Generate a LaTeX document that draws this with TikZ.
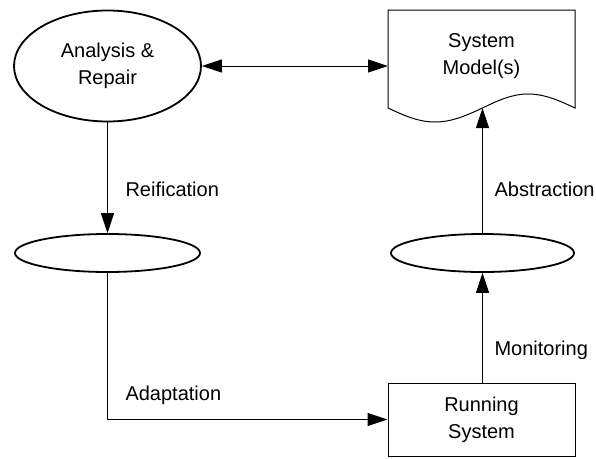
\documentclass[tikz,border=0pt]{standalone}
\usepackage{fontspec}
\setmainfont{Liberation Sans}
\usetikzlibrary{arrows.meta,shapes.geometric}

\begin{document}
\begin{tikzpicture}[x=1pt,y=-1pt,
  font=\fontsize{20}{27}\selectfont,
  oval/.style={draw,ellipse,line width=1.8pt,inner sep=0pt},
  conn/.style={line width=1pt,-{Triangle[length=20pt,width=13pt]}},
  bothconn/.style={line width=1pt,{Triangle[length=20pt,width=13pt]}-{Triangle[length=20pt,width=13pt]}},
  lbl/.style={anchor=base west}]
\useasboundingbox (0,0) rectangle (596,458);
\node[oval,minimum width=187,minimum height=111,align=center] (analysis) at (107.5,66) {Analysis \&\\Repair};
\draw[line width=1pt] (388,108) -- (388,10) -- (575,10) -- (575,108)
  sin (528,94) cos (482.5,108) sin (435,122) cos (388,108) -- cycle;
\node[align=center] (model) at (481.5,56) {System\\Model(s)};
\coordinate (modelW) at (388,66);
\coordinate (modelS) at (482.5,108);
\node[oval,minimum width=185,minimum height=38] (reify) at (107.5,253) {};
\node[oval,minimum width=183,minimum height=38] (abstract) at (482.5,253) {};
\node[draw,line width=1pt,minimum width=187,minimum height=73,align=center] (running) at (481.5,419.5) {Running\\System};
\draw[bothconn] (analysis.east) -- (modelW);
\draw[conn] (analysis.south) -- (reify.north);
\draw[conn] (abstract.north) -- (modelS);
\draw[conn] (running.north -| abstract.south) -- (abstract.south);
\draw[conn] (reify.south) |- (running.west);
\node[lbl] (reiflbl) at (122,196) {Reification};
\node[lbl] (abstrlbl) at (491,196) {Abstraction};
\node[lbl] (monlbl) at (491,355) {Monitoring};
\node[lbl] (adaptlbl) at (122,400) {Adaptation};
\end{tikzpicture}
\end{document}
